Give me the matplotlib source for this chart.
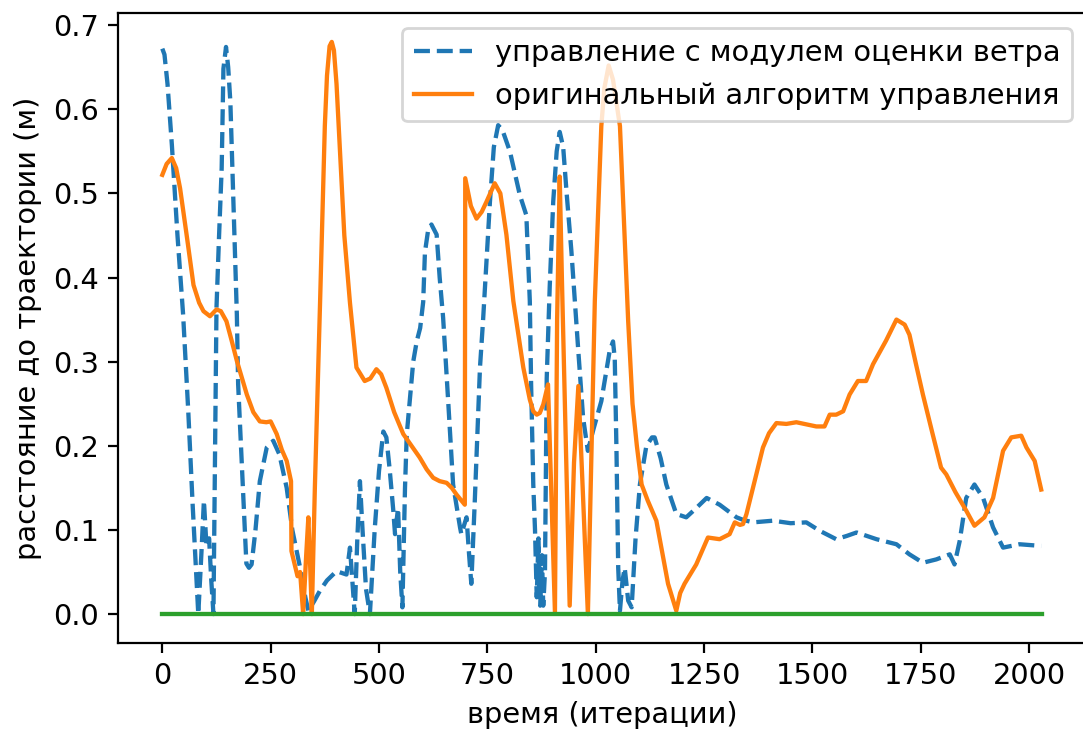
import matplotlib
matplotlib.use("Agg")
import matplotlib.pyplot as plt

# distance to trajectory, controller with wind estimation module (dashed)
wind_t = [0, 5, 12, 22, 35, 48, 60, 70, 77, 83, 90, 96, 102, 108, 113, 118,
          121, 125, 131, 137, 141, 147, 152, 157, 164, 172, 175, 187, 194, 200,
          206, 215, 225, 241, 256, 270, 287, 300, 318, 330, 337, 350, 364, 380,
          402, 425, 433, 444, 450, 456, 462, 470, 479, 490, 500, 510, 517, 525,
          533, 537, 544, 549, 554, 560, 564, 579, 587, 595, 602, 606, 613, 621,
          633, 640, 648, 660, 671, 687, 690, 702, 708, 713, 721, 733, 740, 756,
          765, 775, 785, 802, 825, 840, 848, 851, 856, 860, 864, 868, 872, 876,
          879, 883, 887, 894, 902, 910, 917, 925, 933, 944, 960, 971, 982, 995,
          1013, 1032, 1040, 1044, 1048, 1052, 1056, 1062, 1067, 1075, 1083, 1092,
          1102, 1117, 1130, 1136, 1150, 1163, 1186, 1209, 1230, 1256, 1286, 1325,
          1340, 1363, 1409, 1450, 1486, 1517, 1555, 1580, 1602, 1648, 1694, 1724,
          1755, 1786, 1817, 1828, 1840, 1855, 1874, 1894, 1917, 1940, 1978, 2028]
wind_d = [0.672, 0.665, 0.63, 0.558, 0.45, 0.356, 0.24, 0.13, 0.06, 0.0, 0.07,
          0.135, 0.08, 0.09, 0.04, 0.0, 0.158, 0.364, 0.45, 0.53, 0.648, 0.674,
          0.65, 0.609, 0.49, 0.356, 0.273, 0.14, 0.06, 0.055, 0.059, 0.1, 0.158,
          0.198, 0.206, 0.19, 0.15, 0.1, 0.055, 0.02, 0.004, 0.015, 0.028, 0.04,
          0.051, 0.047, 0.079, 0.0, 0.09, 0.158, 0.1, 0.03, 0.0, 0.1, 0.17,
          0.217, 0.21, 0.17, 0.123, 0.095, 0.126, 0.05, 0.008, 0.15, 0.213, 0.30,
          0.324, 0.34, 0.371, 0.43, 0.455, 0.463, 0.451, 0.40, 0.352, 0.25,
          0.154, 0.103, 0.095, 0.115, 0.07, 0.036, 0.134, 0.293, 0.348, 0.49,
          0.555, 0.581, 0.575, 0.55, 0.498, 0.474, 0.372, 0.273, 0.154, 0.1,
          0.02, 0.09, 0.01, 0.07, 0.01, 0.05, 0.28, 0.39, 0.49, 0.55, 0.573,
          0.555, 0.5, 0.431, 0.312, 0.233, 0.194, 0.22, 0.253, 0.312, 0.324,
          0.304, 0.194, 0.055, 0.004, 0.04, 0.055, 0.016, 0.008, 0.09, 0.154,
          0.2, 0.21, 0.21, 0.185, 0.154, 0.119, 0.115, 0.125, 0.138, 0.13, 0.115,
          0.112, 0.109, 0.111, 0.108, 0.109, 0.099, 0.089, 0.093, 0.097, 0.089,
          0.083, 0.071, 0.061, 0.065, 0.071, 0.059, 0.087, 0.138, 0.154, 0.138,
          0.103, 0.079, 0.083, 0.081]

# distance to trajectory, original control algorithm (solid)
orig_t = [0, 10, 22, 32, 41, 56, 72, 85, 95, 110, 125, 135, 148, 160, 172, 195,
          210, 225, 240, 250, 264, 276, 287, 297, 298, 305, 312, 318, 325, 332,
          337, 341, 345, 352, 364, 375, 380, 386, 391, 396, 402, 410, 420, 433,
          448, 467, 480, 494, 505, 517, 535, 556, 575, 594, 610, 625, 640, 656,
          668, 679, 698, 699, 712, 725, 737, 748, 767, 780, 794, 810, 817, 833,
          848, 856, 864, 871, 879, 890, 906, 911, 917, 922, 940, 950, 960, 970,
          982, 998, 1013, 1020, 1030, 1040, 1056, 1075, 1085, 1095, 1106, 1120,
          1140, 1167, 1186, 1195, 1205, 1232, 1259, 1286, 1309, 1321, 1333, 1340,
          1348, 1363, 1386, 1400, 1417, 1440, 1463, 1490, 1509, 1528, 1540, 1555,
          1571, 1586, 1605, 1624, 1640, 1670, 1694, 1713, 1724, 1740, 1755, 1777,
          1797, 1809, 1830, 1855, 1874, 1897, 1917, 1940, 1959, 1982, 1994, 2013,
          2028]
orig_d = [0.522, 0.535, 0.542, 0.53, 0.506, 0.451, 0.391, 0.37, 0.36, 0.354,
          0.362, 0.36, 0.348, 0.325, 0.301, 0.261, 0.24, 0.229, 0.228, 0.229,
          0.214, 0.195, 0.182, 0.158, 0.075, 0.06, 0.045, 0.05, 0.0, 0.07, 0.115,
          0.06, 0.0, 0.15, 0.37, 0.58, 0.64, 0.675, 0.68, 0.67, 0.63, 0.55, 0.45,
          0.37, 0.293, 0.277, 0.28, 0.291, 0.285, 0.269, 0.24, 0.214, 0.2, 0.186,
          0.172, 0.162, 0.158, 0.156, 0.15, 0.142, 0.13, 0.518, 0.485, 0.47,
          0.478, 0.49, 0.512, 0.5, 0.451, 0.372, 0.348, 0.293, 0.255, 0.241,
          0.237, 0.239, 0.249, 0.273, 0.002, 0.35, 0.52, 0.4, 0.01, 0.18, 0.271,
          0.15, 0.0, 0.372, 0.58, 0.625, 0.652, 0.635, 0.58, 0.348, 0.25, 0.2,
          0.154, 0.135, 0.111, 0.036, 0.004, 0.025, 0.036, 0.059, 0.091, 0.089,
          0.095, 0.109, 0.106, 0.107, 0.119, 0.15, 0.198, 0.215, 0.227, 0.226,
          0.228, 0.225, 0.223, 0.223, 0.237, 0.237, 0.241, 0.261, 0.277, 0.277,
          0.297, 0.325, 0.35, 0.344, 0.332, 0.295, 0.261, 0.215, 0.174, 0.166,
          0.145, 0.123, 0.105, 0.115, 0.138, 0.194, 0.21, 0.212, 0.198, 0.182,
          0.148]

# reference (zero distance)
ref_t = [0, 2031]
ref_d = [0.0, 0.0]

plt.rcParams["font.size"] = 10.4
plt.rcParams["lines.linewidth"] = 1.55

fig = plt.figure(figsize=(1083 / 200, 731 / 200), dpi=200)
ax = fig.add_axes([118.3 / 1083, 1 - 642.7 / 731,
                   (1086.5 - 118.3) / 1083, (642.7 - 13.3) / 731])

ax.plot(wind_t, wind_d, linestyle="--", color="C0",
        label="управление с модулем оценки ветра")
ax.plot(orig_t, orig_d, color="C1", label="оригинальный алгоритм управления")
ax.plot(ref_t, ref_d, color="C2")

ax.set_xlabel("время (итерации)")
ax.set_ylabel("расстояние до траектории (м)")
ax.legend(loc="upper right")

fig.savefig("out.png", dpi=200)
